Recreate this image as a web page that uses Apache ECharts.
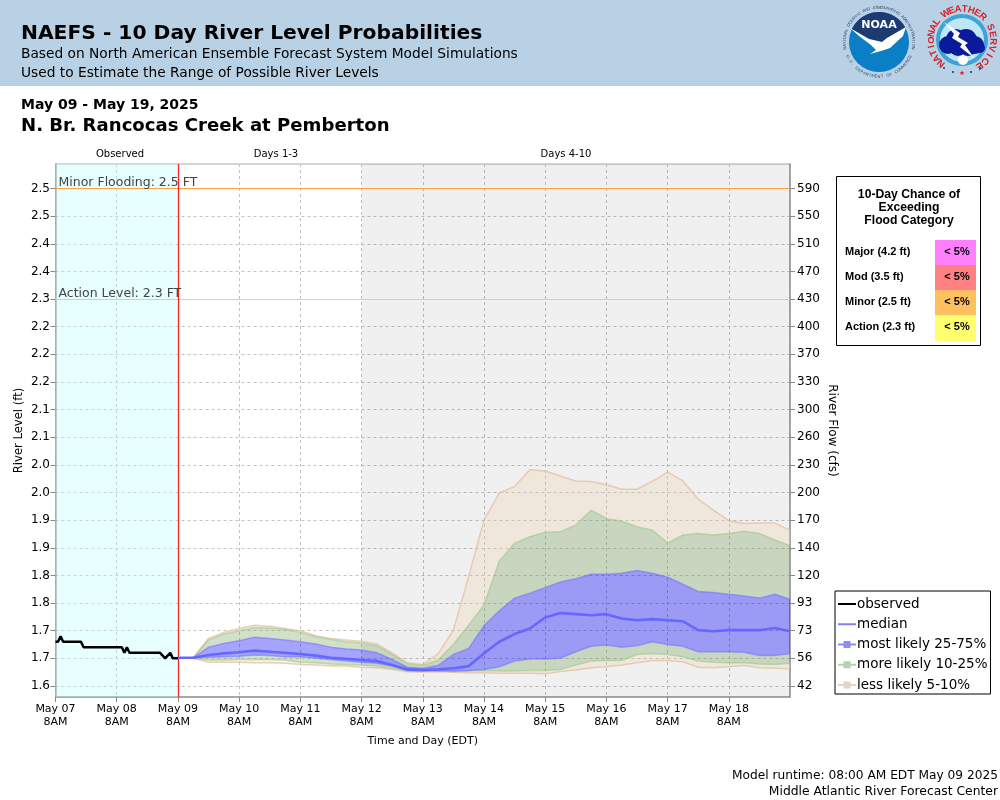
<!DOCTYPE html>
<html><head><meta charset="utf-8">
<style>html,body{margin:0;padding:0;background:#fff}#c{width:1000px;height:800px}</style>
<script src="https://cdn.jsdelivr.net/npm/echarts@6/dist/echarts.min.js"></script>
</head><body><div id="c"></div>
<script>
const xTickValues=[0,24,48,72,96,120,144,168,192,216,240,264];
const xTickLabels=['May 07\n8AM','May 08\n8AM','May 09\n8AM','May 10\n8AM','May 11\n8AM','May 12\n8AM','May 13\n8AM','May 14\n8AM','May 15\n8AM','May 16\n8AM','May 17\n8AM','May 18\n8AM'];
const yTickValues=[2.5,2.45,2.4,2.35,2.3,2.25,2.2,2.15,2.1,2.05,2.0,1.95,1.9,1.85,1.8,1.75,1.7,1.65,1.6];
const yTickLabels=['2.5','2.5','2.4','2.4','2.3','2.2','2.2','2.2','2.1','2.1','2.0','2.0','1.9','1.9','1.8','1.8','1.7','1.7','1.6'];
const flowTickLabels=['590','550','510','470','430','400','370','330','300','260','230','200','170','140','120','93','73','56','42'];
const obsHours=[0,1,2,3,10,11,26,27,28,29,41,43,45,46,48];
const obsLevels=[1.68,1.68,1.69,1.68,1.68,1.67,1.67,1.66,1.67,1.66,1.66,1.65,1.66,1.65,1.65];
const fcstHours=[48,54,60,66,72,78,84,90,96,102,108,114,120,126,132,138,144,150,156,162,168,174,180,186,192,198,204,210,216,222,228,234,240,246,252,258,264,270,276,282,288];
const upper90=[1.651,1.651,1.686,1.697,1.704,1.710,1.708,1.704,1.700,1.691,1.686,1.683,1.681,1.676,1.660,1.642,1.639,1.658,1.701,1.798,1.900,1.949,1.961,1.991,1.989,1.980,1.971,1.970,1.964,1.956,1.956,1.970,1.987,1.971,1.938,1.918,1.899,1.894,1.895,1.895,1.882];
const upper75=[1.651,1.651,1.683,1.694,1.700,1.706,1.705,1.702,1.697,1.689,1.684,1.680,1.678,1.673,1.657,1.640,1.637,1.647,1.675,1.710,1.746,1.826,1.858,1.870,1.878,1.879,1.891,1.918,1.903,1.898,1.888,1.882,1.859,1.873,1.876,1.873,1.876,1.880,1.876,1.864,1.854];
const upper50=[1.651,1.651,1.670,1.677,1.682,1.688,1.686,1.683,1.680,1.676,1.670,1.667,1.665,1.660,1.648,1.634,1.632,1.637,1.657,1.668,1.709,1.736,1.759,1.768,1.778,1.788,1.794,1.802,1.802,1.804,1.809,1.804,1.797,1.784,1.771,1.769,1.766,1.763,1.759,1.766,1.757];
const medianLevels=[1.651,1.651,1.656,1.659,1.661,1.664,1.662,1.660,1.658,1.655,1.651,1.649,1.647,1.645,1.638,1.630,1.629,1.630,1.632,1.636,1.659,1.680,1.694,1.704,1.724,1.732,1.730,1.728,1.730,1.722,1.719,1.721,1.719,1.717,1.701,1.699,1.701,1.701,1.701,1.705,1.699];
const lower50=[1.651,1.651,1.652,1.653,1.654,1.656,1.655,1.653,1.653,1.650,1.648,1.645,1.643,1.641,1.636,1.628,1.627,1.628,1.627,1.628,1.630,1.635,1.645,1.649,1.649,1.650,1.662,1.672,1.674,1.670,1.673,1.680,1.675,1.672,1.662,1.662,1.662,1.661,1.655,1.655,1.659];
const lower75=[1.651,1.650,1.647,1.647,1.648,1.648,1.648,1.647,1.643,1.642,1.640,1.639,1.638,1.636,1.632,1.627,1.627,1.627,1.626,1.627,1.628,1.627,1.627,1.628,1.628,1.630,1.638,1.645,1.646,1.646,1.657,1.659,1.657,1.653,1.645,1.643,1.642,1.642,1.640,1.639,1.641];
const lower90=[1.651,1.650,1.643,1.643,1.643,1.642,1.642,1.641,1.639,1.638,1.636,1.636,1.634,1.633,1.630,1.626,1.625,1.626,1.625,1.624,1.624,1.623,1.623,1.623,1.622,1.626,1.629,1.633,1.635,1.638,1.642,1.646,1.646,1.644,1.634,1.633,1.635,1.637,1.633,1.632,1.631];
const seriesNames=['observed','median','most likely 25-75%','more likely 10-25%','less likely 5-10%'];
const floodCats=['Major (4.2 ft)','Mod (3.5 ft)','Minor (2.5 ft)','Action (2.3 ft)'];
const floodChance=['< 5%','< 5%','< 5%','< 5%'];
const floodColors=['#ff80ff','#ff8080','#ffc060','#ffff70'];
const periodLabels=['Observed','Days 1-3','Days 4-10'];

const DJ='DejaVu Sans', LS='Liberation Sans';
function T(x,y,text,size,opt){opt=opt||{};return {type:'text',x:x,y:y,z:opt.z||50,rotation:opt.rot||0,style:{text:text,fontFamily:opt.font||DJ,fontSize:size,fontWeight:opt.w||'normal',fill:opt.c||'#000',align:opt.a||'left',verticalAlign:'middle'}};}
function arc(cx,cy,r,a0,a1,n){const p=[];for(let i=0;i<=n;i++){const a=(a0+(a1-a0)*i/n)*Math.PI/180;p.push([cx+r*Math.cos(a),cy+r*Math.sin(a)]);}return p;}
function ringText(str,cx,cy,r,a0,a1,size,color,w,flip){const out=[],n=str.length;for(let i=0;i<n;i++){const a=a0+(a1-a0)*(n===1?0.5:i/(n-1));const rad=a*Math.PI/180;const rot=flip?(-(a-90)*Math.PI/180):(-(a+90)*Math.PI/180);const el=T(cx+r*Math.cos(rad),cy+r*Math.sin(rad),str[i],size,{a:'center',c:color,w:w,rot:rot,font:LS,z:61});out.push(el);}return out;}
function poly(points,fill,z){return {type:'polygon',z:z||60,shape:{points:points},style:{fill:fill}};}
function circ(cx,cy,r,fill,z){return {type:'circle',z:z||60,shape:{cx:cx,cy:cy,r:r},style:{fill:fill}};}

function noaaLogo(){const cx=879,cy=42,r=30;const rel=p=>p.map(q=>[cx+q[0],cy+q[1]]);
 const els=[circ(cx,cy,r,'#0a7fc6')];
 els.push(poly(arc(cx,cy,r,-155,-27,30).concat(rel([[8,-4],[3,0],[-10,-3]])),'#1d3b72',61));
 els.push(poly(rel([[-29,-14],[-10,-3],[3,0],[8,-4],[27,-15],[24,-6],[11,6],[2,9],[-9,12],[-3,8],[-8,3],[-20,-6]]),'#fff',62));
 els.push(T(cx,cy-17,'NOAA',11,{a:'center',c:'#fff',w:'bold',z:63}));
 els.push(...ringText('NATIONAL OCEANIC AND ATMOSPHERIC ADMINISTRATION',cx,cy,34.5,-190,10,4,'#2b3f66','normal',false));
 els.push(...ringText('U.S. DEPARTMENT OF COMMERCE',cx,cy,34.5,155,25,4,'#2b3f66','normal',true));
 return els;}
function nwsLogo(){const cx=962,cy=40;const els=[circ(cx,cy,26,'#3ea3d6'),circ(cx,cy,22,'#bfe6f5',61)];
 [[-14,5,9],[-6,-1,10],[4,0,11],[13,5,9],[-4,7,9],[6,8,8],[18,8,5]].forEach(c=>els.push(circ(cx+c[0],cy+c[1],c[2],'#0a1a9a',62)));
 els.push(circ(cx+1,cy+20,5,'#fff',61));
 els.push(poly([[cx-18,cy-18],[cx-2,cy-7],[cx-4,cy-3],[cx+6,cy+3],[cx+3,cy+5],[cx+12,cy+18],[cx-2,cy+7],[cx,cy+4],[cx-10,cy-2],[cx-8,cy-6]],'#fff',63));
 els.push(...ringText('NATIONAL',cx,cy,31,132,216,9.5,'#d42027','bold',false));
 els.push(...ringText('WEATHER',cx,cy,31,-122,-48,9.5,'#d42027','bold',false));
 els.push(...ringText('SERVICE',cx,cy,31,-24,56,9.5,'#d42027','bold',false));
 els.push(circ(cx-9,cy+32,1,'#1a2b8a',62),circ(cx+9,cy+32,1,'#1a2b8a',62),circ(cx-18,cy+28,1,'#1a2b8a',62),circ(cx+18,cy+28,1,'#1a2b8a',62));
 els.push({type:'polygon',z:62,shape:{points:arc(cx,cy+33,2.6,-90,630,10).map((p,i)=>i%2?[cx+(p[0]-cx)*0.4,cy+33+(p[1]-cy-33)*0.4]:p)},style:{fill:'#d42027'}});
 return els;}

const graphics=[
 {type:'rect',z:-10,shape:{x:0,y:0,width:1000,height:86},style:{fill:'#b9d1e5'}},
 T(21,33.5,'NAEFS - 10 Day River Level Probabilities',20.25,{w:'bold'}),
 T(21,54,'Based on North American Ensemble Forecast System Model Simulations',13.75),
 T(21,73,'Used to Estimate the Range of Possible River Levels',13.75),
 T(21,105,'May 09 - May 19, 2025',14,{w:'bold'}),
 T(21,126,'N. Br. Rancocas Creek at Pemberton',18.1,{w:'bold'}),
 T(120,154,periodLabels[0],10,{a:'center'}),
 T(276,154,periodLabels[1],10,{a:'center'}),
 T(566,154,periodLabels[2],10,{a:'center'}),
 T(998,776,'Model runtime: 08:00 AM EDT May 09 2025',12.2,{a:'right'}),
 T(998,791.5,'Middle Atlantic River Forecast Center',12.35,{a:'right'}),
 {type:'rect',z:40,shape:{x:836.5,y:176.5,width:144,height:169},style:{fill:'#fff',stroke:'#000',lineWidth:1}},
 T(909,195,'10-Day Chance of',12.2,{a:'center',font:LS,w:'bold'}),
 T(909,208,'Exceeding',12.2,{a:'center',font:LS,w:'bold'}),
 T(909,221,'Flood Category',12.2,{a:'center',font:LS,w:'bold'})
];
floodCats.forEach((n,i)=>{const y=240+i*25.1;
 graphics.push({type:'rect',z:45,shape:{x:935,y:y,width:41,height:25.6},style:{fill:floodColors[i]}});
 graphics.push(T(845,y+11.5,n,11,{font:LS,w:'bold'}));
 graphics.push(T(957,y+11.5,floodChance[i],11,{a:'center',font:LS,w:'bold',z:51}));
});
graphics.push(...noaaLogo(),...nwsLogo());

function bandSeries(name,rows,fill,edge,z){
 return {name:name,type:'custom',z:z,silent:true,data:rows,encode:{x:0,y:[1,2]},clip:true,
  renderItem:function(params,api){
   if(params.dataIndex!==0)return null;
   const L=rows.map(r=>api.coord([r[0],r[1]])),H=rows.map(r=>api.coord([r[0],r[2]]));
   const children=[{type:'polygon',shape:{points:L.concat(H.slice().reverse())},style:{fill:fill}}];
   if(rows[0].length>3){const L2=rows.map(r=>api.coord([r[0],r[3]])),H2=rows.map(r=>api.coord([r[0],r[4]]));
    children.push({type:'polygon',shape:{points:L2.concat(H2.slice().reverse())},style:{fill:fill}});
    children.push({type:'polyline',shape:{points:H},style:{fill:null,stroke:edge,lineWidth:1.5}});
    children.push({type:'polyline',shape:{points:L2},style:{fill:null,stroke:edge,lineWidth:1.5}});
   } else {
    children.push({type:'polyline',shape:{points:L},style:{fill:null,stroke:edge,lineWidth:1.5}});
    children.push({type:'polyline',shape:{points:H},style:{fill:null,stroke:edge,lineWidth:1.5}});
   }
   return {type:'group',children:children};
  }};
}
const lessRows=fcstHours.map((h,i)=>[h,upper75[i],upper90[i],lower90[i],lower75[i]]);
const moreRows=fcstHours.map((h,i)=>[h,upper50[i],upper75[i],lower75[i],lower50[i]]);
const mostRows=fcstHours.map((h,i)=>[h,lower50[i],upper50[i]]);
const yMin=1.5801,yMax=2.5443;
const lbl=(arr)=>(v)=>{let k=0,b=9;yTickValues.forEach((t,i)=>{const d=Math.abs(t-v);if(d<b){b=d;k=i;}});return arr[k];};
const axisCommon={type:'value',min:yMin,max:yMax,scale:true,nameMoveOverlap:false,
 axisLine:{show:true,lineStyle:{color:'#999',width:1.5}},
 axisTick:{show:true,length:5,customValues:yTickValues,lineStyle:{color:'#888'}},
 nameLocation:'middle'};
const gridLine={show:true,lineStyle:{type:[3,3],color:'#c2c2c2',width:1}};

const chart=echarts.init(document.getElementById('c'),null,{renderer:'canvas',width:1000,height:800});
chart.setOption({
 animation:false,backgroundColor:'#fff',
 grid:{left:55.5,right:210,top:164,height:533,show:true,borderColor:'#aaa',borderWidth:1,backgroundColor:'#fff',containLabel:false,outerBoundsMode:'none'},
 graphic:graphics,
 legend:{orient:'vertical',left:835,top:591,padding:[5,3,1,3],itemGap:4.25,itemWidth:18,itemHeight:8,borderColor:'#000',borderWidth:1,backgroundColor:'#fff',align:'left',
  textStyle:{fontFamily:DJ,fontSize:13.5,color:'#000',padding:[0,0,0,-4],lineHeight:16},
  selectedMode:false,
  data:[
   {name:seriesNames[0],icon:'path://M0 3H18V5H0Z',itemStyle:{color:'#000'}},
   {name:seriesNames[1],icon:'path://M0 3H18V5H0Z',itemStyle:{color:'#8080ff'}},
   {name:seriesNames[2],icon:'path://M0 3H18V5H0Z M5.5 .5H12.5V7.5H5.5Z',itemStyle:{color:'#8c8cfa'}},
   {name:seriesNames[3],icon:'path://M0 3H18V5H0Z M5.5 .5H12.5V7.5H5.5Z',itemStyle:{color:'#b5d3a8'}},
   {name:seriesNames[4],icon:'path://M0 3H18V5H0Z M5.5 .5H12.5V7.5H5.5Z',itemStyle:{color:'#e9d4bf'}}
  ]},
 xAxis:{type:'value',min:0,max:288,interval:24,name:'Time and Day (EDT)',nameLocation:'middle',nameGap:39,nameMoveOverlap:false,
  nameTextStyle:{fontFamily:DJ,fontSize:11,color:'#000'},
  axisLine:{show:true,lineStyle:{color:'#999',width:1.5}},axisTick:{show:true,length:5,lineStyle:{color:'#888'}},
  axisLabel:{fontFamily:DJ,fontSize:11,color:'#000',lineHeight:12.5,margin:6,showMaxLabel:false,
   formatter:(v)=>{const i=xTickValues.indexOf(v);return i<0?'':xTickLabels[i];}},
  splitLine:gridLine},
 yAxis:[
  Object.assign({},axisCommon,{position:'left',name:'River Level (ft)',nameGap:31,nameRotate:90,
   nameTextStyle:{fontFamily:DJ,fontSize:11.6,color:'#000',padding:[0,0,0,0]},
   axisLabel:{customValues:yTickValues,fontFamily:DJ,fontSize:12,color:'#000',margin:5.5,padding:[2,0,0,0],formatter:lbl(yTickLabels)},
   splitLine:gridLine}),
  Object.assign({},axisCommon,{position:'right',name:'River Flow (cfs)',nameGap:36,nameRotate:-90,
   nameTextStyle:{fontFamily:DJ,fontSize:12,color:'#000'},
   axisLabel:{customValues:yTickValues,fontFamily:DJ,fontSize:12,color:'#000',margin:7,padding:[2,0,0,0],formatter:lbl(flowTickLabels)},
   splitLine:{show:false}})
 ],
 series:[
  {name:'shading',type:'line',z:1,data:[],silent:true,showSymbol:false,
   markArea:{silent:true,data:[
    [{xAxis:0,itemStyle:{color:'rgba(190,255,255,0.35)'}},{xAxis:48}],
    [{xAxis:120,itemStyle:{color:'rgba(0,0,0,0.06)'}},{xAxis:288}]]}},
  {name:seriesNames[0],type:'line',z:8,showSymbol:false,silent:true,yAxisIndex:0,clip:true,
   data:obsHours.map((h,i)=>[h,obsLevels[i]]),lineStyle:{color:'#000',width:2.5},itemStyle:{color:'#000'},
   markLine:{silent:true,symbol:'none',animation:false,data:[
    {yAxis:2.5,lineStyle:{color:'#ffa040',width:1,type:'solid'},label:{show:true,position:'insideStartTop',distance:[3,-1],formatter:'Minor Flooding: 2.5 FT',fontFamily:DJ,fontSize:12.5,color:'#444'}},
    {yAxis:2.3,lineStyle:{color:'#ffd050',width:1,type:'solid'},label:{show:true,position:'insideStartTop',distance:[3,-1],formatter:'Action Level: 2.3 FT',fontFamily:DJ,fontSize:12.5,color:'#444'}},
    {xAxis:48,lineStyle:{color:'#ff2020',width:1.3,type:'solid'},label:{show:false}}]}},
  bandSeries(seriesNames[4],lessRows,'rgba(237,211,183,0.35)','rgba(225,190,155,0.7)',3),
  bandSeries(seriesNames[3],moreRows,'rgba(126,166,103,0.35)','rgba(150,200,130,0.55)',4),
  bandSeries(seriesNames[2],mostRows,'rgba(10,10,255,0.37)','rgba(110,110,255,0.55)',5),
  {name:seriesNames[1],type:'line',z:7,showSymbol:false,silent:true,
   data:fcstHours.map((h,i)=>[h,medianLevels[i]]),lineStyle:{color:'rgba(100,100,255,0.95)',width:2.6},itemStyle:{color:'#8080ff'}}
 ]
});
</script></body></html>
